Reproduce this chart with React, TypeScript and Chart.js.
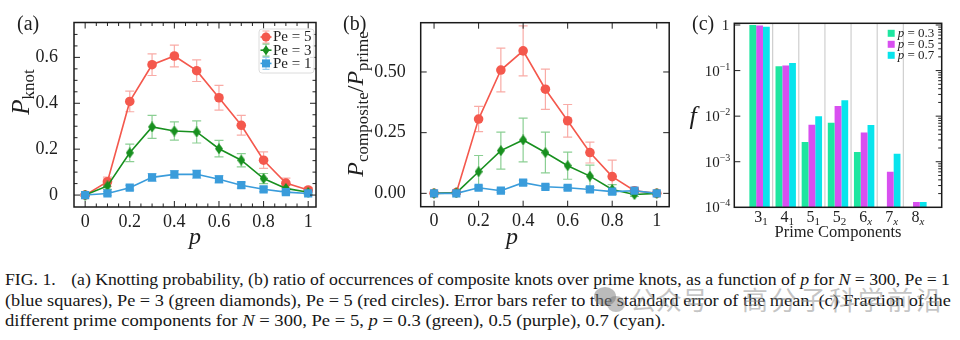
import React, { useEffect, useLayoutEffect, useRef } from "react";
import { Chart, registerables } from "chart.js";

Chart.register(...registerables);

const SERIF = "'Liberation Serif', 'Times New Roman', serif";
const TXT = "#1e1e1e";

// ---------- data ----------
const pValues = [0, 0.1, 0.2, 0.3, 0.4, 0.5, 0.6, 0.7, 0.8, 0.9, 1.0];

const knotPe5 = [0, 0.058, 0.408, 0.568, 0.606, 0.542, 0.424, 0.304, 0.152, 0.052, 0.022];
const knotPe5Err = [0.004, 0.02, 0.045, 0.047, 0.047, 0.047, 0.054, 0.043, 0.036, 0.022, 0.01];
const knotPe3 = [0, 0.04, 0.184, 0.297, 0.279, 0.275, 0.202, 0.152, 0.072, 0.029, 0.012];
const knotPe3Err = [0.004, 0.015, 0.038, 0.05, 0.04, 0.048, 0.036, 0.029, 0.022, 0.013, 0.008];
const knotPe1 = [0, 0.007, 0.032, 0.077, 0.09, 0.091, 0.069, 0.043, 0.025, 0.013, 0.007];
const knotPe1Err = [0.004, 0.008, 0.01, 0.017, 0.017, 0.018, 0.016, 0.013, 0.01, 0.008, 0.006];

const ratioPe5 = [0, 0.003, 0.306, 0.508, 0.587, 0.429, 0.299, 0.168, 0.069, 0.011, 0];
const ratioPe5Err = [0, 0.005, 0.052, 0.09, 0.103, 0.083, 0.067, 0.043, 0.068, 0.012, 0];
const ratioPe3 = [0, 0.002, 0.089, 0.176, 0.22, 0.168, 0.114, 0.071, 0.016, -0.005, 0];
const ratioPe3Err = [0, 0.004, 0.067, 0.076, 0.09, 0.084, 0.056, 0.045, 0.02, 0.008, 0];
const ratioPe1 = [0, 0, 0.023, 0.011, 0.044, 0.027, 0.023, 0.016, 0.007, 0.011, 0];
const ratioPe1Err = [0, 0.003, 0.008, 0.006, 0.01, 0.008, 0.008, 0.007, 0.005, 0.006, 0];

const pTickValues = [0, 0.2, 0.4, 0.6, 0.8, 1];
const pTickLabels = ["0", "0.2", "0.4", "0.6", "0.8", "1"];
const knotTickValues = [0, 0.2, 0.4, 0.6];
const knotTickLabels = ["0", "0.2", "0.4", "0.6"];
const ratioTickValues = [0, 0.25, 0.5];
const ratioTickLabels = ["0.00", "0.25", "0.50"];

const knotTypes = ["3", "4", "5", "5", "6", "7", "8"];
const knotSubs = ["1", "1", "1", "2", "x", "x", "x"];
const fracP03 = [1.0, 0.125, 0.0027, 0.0072, 0.00163, null, null];
const fracP05 = [0.97, 0.129, 0.0065, 0.0167, 0.0044, 0.0006, 0.000131];
const fracP07 = [0.92, 0.146, 0.0099, 0.0223, 0.0064, 0.0015, 0.000131];
const fracExponents = [-4, -3, -2, -1, 0];

// ---------- colours ----------
const RED = "#f4584d";
const RED_ERR = "rgba(244,88,77,0.5)";
const GREEN = "#18901f";
const GREEN_ERR = "rgba(24,160,40,0.5)";
const BLUE = "#3a9cdb";
const BLUE_ERR = "rgba(58,156,219,0.5)";
const C_GREEN = "#1ee6a0";
const C_PURPLE = "#d84ff0";
const C_CYAN = "#08e4ec";

// ---------- text helpers ----------
type Part = { t: string; size: number; italic?: boolean; dy?: number };
type TextSpec = { x: number; y: number; rot?: boolean; align?: "left" | "center" | "right"; parts: Part[] };

const fontOf = (p: Part) => `${p.italic ? "italic " : ""}${p.size}px ${SERIF}`;

function drawRich(ctx: CanvasRenderingContext2D, s: TextSpec) {
  ctx.save();
  ctx.fillStyle = TXT;
  ctx.textBaseline = "alphabetic";
  ctx.textAlign = "left";
  let total = 0;
  const widths = s.parts.map((p) => {
    ctx.font = fontOf(p);
    const w = ctx.measureText(p.t).width;
    total += w;
    return w;
  });
  ctx.translate(s.x, s.y);
  if (s.rot) ctx.rotate(-Math.PI / 2);
  const al = s.align || "center";
  let x = al === "center" ? -total / 2 : al === "right" ? -total : 0;
  s.parts.forEach((p, i) => {
    ctx.font = fontOf(p);
    ctx.fillText(p.t, x, p.dy || 0);
    x += widths[i];
  });
  ctx.restore();
}

// ---------- plugins ----------
type FrameOpts = {
  xMajor: number[];
  xMinor: number[];
  yMajor: number[];
  yMinor: number[];
  yMinorLeft?: boolean;
  texts: (chart: any) => TextSpec[];
};

function framePlugin(o: FrameOpts) {
  return {
    id: "frameTicks",
    afterDraw(chart: any) {
      const { ctx, chartArea: a, scales } = chart;
      const xs = scales.x;
      const ys = scales.y;
      ctx.save();
      ctx.strokeStyle = "#222";
      ctx.lineWidth = 1;
      const MAJ = 6;
      const MIN = 3.5;
      const xTick = (v: number, len: number) => {
        const px = xs.getPixelForValue(v);
        if (px < a.left + 0.5 || px > a.right - 0.5) return;
        ctx.beginPath();
        ctx.moveTo(px, a.bottom);
        ctx.lineTo(px, a.bottom - len);
        ctx.moveTo(px, a.top);
        ctx.lineTo(px, a.top + len);
        ctx.stroke();
      };
      const yTick = (v: number, len: number, left: boolean) => {
        const py = ys.getPixelForValue(v);
        if (py < a.top + 0.5 || py > a.bottom - 0.5) return;
        ctx.beginPath();
        if (left) {
          ctx.moveTo(a.left, py);
          ctx.lineTo(a.left + len, py);
        }
        ctx.moveTo(a.right, py);
        ctx.lineTo(a.right - len, py);
        ctx.stroke();
      };
      o.xMajor.forEach((v) => xTick(v, MAJ));
      o.xMinor.forEach((v) => xTick(v, MIN));
      o.yMajor.forEach((v) => yTick(v, MAJ, true));
      o.yMinor.forEach((v) => yTick(v, MIN, o.yMinorLeft !== false));
      ctx.lineWidth = 1.5;
      ctx.strokeStyle = "#1a1a1a";
      ctx.strokeRect(a.left, a.top, a.right - a.left, a.bottom - a.top);
      ctx.restore();
      o.texts(chart).forEach((t) => drawRich(ctx, t));
    },
  };
}

const errorBarPlugin = {
  id: "errorBars",
  beforeDatasetsDraw(chart: any) {
    const { ctx, chartArea: a, scales } = chart;
    const xs = scales.x;
    const ys = scales.y;
    ctx.save();
    ctx.beginPath();
    ctx.rect(a.left, a.top, a.right - a.left, a.bottom - a.top);
    ctx.clip();
    ctx.lineWidth = 1.2;
    chart.data.datasets.forEach((ds: any) => {
      if (!ds.errorBars) return;
      ctx.strokeStyle = ds.errorColor;
      ds.data.forEach((pt: any, i: number) => {
        const e = ds.errorBars[i];
        if (!e) return;
        const px = xs.getPixelForValue(pt.x);
        const y1 = ys.getPixelForValue(pt.y - e);
        const y2 = ys.getPixelForValue(pt.y + e);
        ctx.beginPath();
        ctx.moveTo(px, y1);
        ctx.lineTo(px, y2);
        ctx.moveTo(px - 4.5, y1);
        ctx.lineTo(px + 4.5, y1);
        ctx.moveTo(px - 4.5, y2);
        ctx.lineTo(px + 4.5, y2);
        ctx.stroke();
      });
    });
    ctx.restore();
  },
};

function drawMarker(ctx: CanvasRenderingContext2D, kind: string, x: number, y: number, color: string) {
  ctx.fillStyle = color;
  ctx.beginPath();
  if (kind === "circle") {
    ctx.arc(x, y, 4.5, 0, Math.PI * 2);
  } else if (kind === "diamond") {
    ctx.moveTo(x, y - 5);
    ctx.lineTo(x + 3.6, y);
    ctx.lineTo(x, y + 5);
    ctx.lineTo(x - 3.6, y);
    ctx.closePath();
  } else {
    ctx.rect(x - 4, y - 4, 8, 8);
  }
  ctx.fill();
}

const lineLegendPlugin = {
  id: "lineLegend",
  afterDraw(chart: any) {
    const { ctx, chartArea: a } = chart;
    const w = 55;
    const h = 44;
    const x0 = a.right - 2 - w;
    const y0 = a.top + 6.5;
    ctx.save();
    ctx.beginPath();
    (ctx as any).roundRect(x0, y0, w, h, 3);
    ctx.fillStyle = "rgba(255,255,255,0.85)";
    ctx.fill();
    ctx.strokeStyle = "#dcdcdc";
    ctx.lineWidth = 1;
    ctx.stroke();
    chart.data.datasets.forEach((ds: any, i: number) => {
      const cy = y0 + 8 + i * 13.2;
      const mx = x0 + 7;
      ctx.strokeStyle = ds.errorColor;
      ctx.lineWidth = 1.2;
      ctx.beginPath();
      ctx.moveTo(mx, cy - 6);
      ctx.lineTo(mx, cy + 6);
      ctx.moveTo(mx - 3.5, cy - 6);
      ctx.lineTo(mx + 3.5, cy - 6);
      ctx.moveTo(mx - 3.5, cy + 6);
      ctx.lineTo(mx + 3.5, cy + 6);
      ctx.stroke();
      ctx.strokeStyle = ds.borderColor;
      ctx.lineWidth = 1.6;
      ctx.beginPath();
      ctx.moveTo(x0 + 1.5, cy);
      ctx.lineTo(x0 + 12.5, cy);
      ctx.stroke();
      drawMarker(ctx, ds.marker, mx, cy, ds.borderColor);
      ctx.fillStyle = TXT;
      ctx.font = `15px ${SERIF}`;
      ctx.textBaseline = "middle";
      ctx.textAlign = "left";
      ctx.fillText(ds.label, x0 + 14, cy + 0.5);
    });
    ctx.restore();
  },
};

const barDecorPlugin = {
  id: "barDecor",
  beforeDatasetsDraw(chart: any) {
    const { ctx, chartArea: a, scales } = chart;
    ctx.save();
    ctx.strokeStyle = "#cfcfcf";
    ctx.lineWidth = 1.2;
    for (let i = 0; i < knotTypes.length - 1; i++) {
      const px = scales.x.getPixelForValue(i + 0.5);
      ctx.beginPath();
      ctx.moveTo(px, a.top);
      ctx.lineTo(px, a.bottom);
      ctx.stroke();
    }
    ctx.restore();
  },
  afterDraw(chart: any) {
    const { ctx, chartArea: a } = chart;
    ctx.save();
    const x0 = a.right - 54;
    chart.data.datasets.forEach((ds: any, i: number) => {
      const cy = a.top + 10 + i * 11;
      ctx.fillStyle = ds.backgroundColor;
      ctx.fillRect(x0, cy - 3.5, 7, 7);
      drawRich(ctx, {
        x: x0 + 10,
        y: cy + 4,
        align: "left",
        parts: [
          { t: "p", size: 13, italic: true },
          { t: " = " + ds.pValue, size: 13 },
        ],
      });
    });
    ctx.restore();
  },
};

// ---------- chart builders ----------
function diamondImage(color: string) {
  const c = document.createElement("canvas");
  c.width = 8;
  c.height = 11;
  const g = c.getContext("2d")!;
  g.fillStyle = color;
  g.beginPath();
  g.moveTo(4, 0);
  g.lineTo(8, 5.5);
  g.lineTo(4, 11);
  g.lineTo(0, 5.5);
  g.closePath();
  g.fill();
  return c;
}

function series(label: string, ys: number[], errs: number[], color: string, errColor: string, marker: string, order: number) {
  return {
    label,
    data: pValues.map((p, i) => ({ x: p, y: ys[i] })),
    errorBars: errs,
    errorColor: errColor,
    marker,
    order,
    borderColor: color,
    backgroundColor: color,
    pointBackgroundColor: color,
    pointBorderWidth: 0,
    pointStyle: marker === "diamond" ? diamondImage(color) : marker === "square" ? "rect" : "circle",
    pointRadius: marker === "square" ? 5.8 : 4.8,
    borderWidth: 1.6,
    tension: 0,
  };
}

type Area = { left: number; top: number; right: number; bottom: number };

const TICK_FONT = { size: 18, family: SERIF };

function lineChart(
  canvas: HTMLCanvasElement,
  W: number,
  H: number,
  area: Area,
  xRange: [number, number],
  yRange: [number, number],
  yTicks: number[],
  yLabels: string[],
  yPad: number,
  datasets: any[],
  frame: FrameOpts,
  withLegend: boolean
) {
  const plugins: any[] = [errorBarPlugin, framePlugin(frame)];
  if (withLegend) plugins.push(lineLegendPlugin);
  return new Chart(canvas, {
    type: "line",
    data: { datasets },
    options: {
      responsive: false,
      animation: false,
      devicePixelRatio: 1,
      layout: { padding: { left: 0, top: area.top, right: W - area.right, bottom: 0 } },
      plugins: { legend: { display: false }, tooltip: { enabled: false } },
      scales: {
        x: {
          type: "linear",
          min: xRange[0],
          max: xRange[1],
          grid: { display: false },
          border: { display: false },
          afterBuildTicks: (s: any) => {
            s.ticks = pTickValues.map((v) => ({ value: v }));
          },
          afterFit: (s: any) => {
            s.height = H - area.bottom;
          },
          ticks: {
            callback: (_v: any, i: number) => pTickLabels[i],
            padding: -4,
            color: TXT,
            font: TICK_FONT,
            maxRotation: 0,
            autoSkip: false,
          },
        },
        y: {
          type: "linear",
          min: yRange[0],
          max: yRange[1],
          grid: { display: false },
          border: { display: false },
          afterBuildTicks: (s: any) => {
            s.ticks = yTicks.map((v) => ({ value: v }));
          },
          afterFit: (s: any) => {
            s.width = area.left;
          },
          ticks: {
            callback: (_v: any, i: number) => yLabels[i],
            padding: yPad,
            color: TXT,
            font: TICK_FONT,
            autoSkip: false,
          },
        },
      },
    } as any,
    plugins,
  });
}

function steps(from: number, to: number, step: number, skipEvery: number) {
  const out: number[] = [];
  const n0 = Math.ceil(from / step - 1e-9);
  const n1 = Math.floor(to / step + 1e-9);
  for (let n = n0; n <= n1; n++) {
    if (n % skipEvery !== 0) out.push(+(n * step).toFixed(4));
  }
  return out;
}

const H = 260;

function makeA(canvas: HTMLCanvasElement) {
  const area = { left: 74, top: 22.5, right: 316, bottom: 207 };
  return lineChart(
    canvas,
    330,
    H,
    area,
    [-0.05, 1.035],
    [-0.052, 0.752],
    knotTickValues,
    knotTickLabels,
    8,
    [
      series("Pe = 5", knotPe5, knotPe5Err, RED, RED_ERR, "circle", 3),
      series("Pe = 3", knotPe3, knotPe3Err, GREEN, GREEN_ERR, "diamond", 2),
      series("Pe = 1", knotPe1, knotPe1Err, BLUE, BLUE_ERR, "square", 1),
    ],
    {
      xMajor: pTickValues,
      xMinor: steps(-0.05, 1.035, 0.05, 4),
      yMajor: knotTickValues,
      yMinor: steps(-0.05, 0.75, 0.05, 4),
      texts: () => [
        { x: 17, y: 30, align: "left", parts: [{ t: "(a)", size: 20 }] },
        { x: 29, y: 92, rot: true, parts: [{ t: "P", size: 25, italic: true }, { t: "knot", size: 17, dy: 4.5 }] },
        { x: 195, y: 244, parts: [{ t: "p", size: 24, italic: true }] },
      ],
    },
    true
  );
}

function makeB(canvas: HTMLCanvasElement) {
  const area = { left: 90.7, top: 22.7, right: 341.7, bottom: 206.7 };
  return lineChart(
    canvas,
    345,
    H,
    area,
    [-0.06, 1.056],
    [-0.055, 0.703],
    ratioTickValues,
    ratioTickLabels,
    7,
    [
      series("Pe = 5", ratioPe5, ratioPe5Err, RED, RED_ERR, "circle", 3),
      series("Pe = 3", ratioPe3, ratioPe3Err, GREEN, GREEN_ERR, "diamond", 2),
      series("Pe = 1", ratioPe1, ratioPe1Err, BLUE, BLUE_ERR, "square", 1),
    ],
    {
      xMajor: pTickValues,
      xMinor: [],
      yMajor: ratioTickValues,
      yMinor: [],
      texts: () => [
        { x: 13, y: 30, align: "left", parts: [{ t: "(b)", size: 20 }] },
        {
          x: 33,
          y: 104,
          rot: true,
          parts: [
            { t: "P", size: 24, italic: true },
            { t: "composite", size: 17, dy: 5 },
            { t: "/", size: 24 },
            { t: "P", size: 24, italic: true },
            { t: "prime", size: 17, dy: 5 },
          ],
        },
        { x: 182, y: 244, parts: [{ t: "p", size: 24, italic: true }] },
      ],
    },
    false
  );
}

function makeC(canvas: HTMLCanvasElement) {
  const W = 280;
  const area = { left: 54.3, top: 23.3, right: 261.7, bottom: 207.3 };
  const minor: number[] = [];
  for (let k = -4; k <= -1; k++) for (let m = 2; m <= 9; m++) minor.push(m * Math.pow(10, k));
  const mk = (label: string, pv: string, vals: (number | null)[], color: string) => ({
    label,
    pValue: pv,
    data: vals.map((v, i) => ({ x: i, y: v })),
    backgroundColor: color,
    borderWidth: 0,
    categoryPercentage: 0.78,
    barPercentage: 1,
  });
  const frame = framePlugin({
    xMajor: [],
    xMinor: [],
    yMajor: fracExponents.map((e) => Math.pow(10, e)),
    yMinor: minor,
    yMinorLeft: false,
    texts: (chart: any) => {
      const xs = chart.scales.x;
      const ys = chart.scales.y;
      const a = chart.chartArea;
      const out: TextSpec[] = [
        { x: 12, y: 30, align: "left", parts: [{ t: "(c)", size: 20 }] },
        { x: 13, y: 124, parts: [{ t: "f", size: 26, italic: true }] },
        { x: 158, y: 237, parts: [{ t: "Prime Components", size: 16.5 }] },
      ];
      knotTypes.forEach((k, i) => {
        out.push({
          x: xs.getPixelForValue(i) + 1.5,
          y: a.bottom + 15,
          parts: [
            { t: k, size: 16 },
            { t: knotSubs[i], size: 11, dy: 3, italic: knotSubs[i] === "x" },
          ],
        });
      });
      fracExponents.forEach((e) => {
        const py = ys.getPixelForValue(Math.pow(10, e));
        out.push(
          e === 0
            ? { x: a.left - 5, y: py + 5, align: "right", parts: [{ t: "1", size: 15 }] }
            : {
                x: a.left - 4,
                y: py + 5,
                align: "right",
                parts: [
                  { t: "10", size: 15 },
                  { t: "\u2212" + -e, size: 10, dy: -6 },
                ],
              }
        );
      });
      return out;
    },
  });
  return new Chart(canvas, {
    type: "bar",
    data: {
      datasets: [
        mk("p = 0.3", "0.3", fracP03, C_GREEN),
        mk("p = 0.5", "0.5", fracP05, C_PURPLE),
        mk("p = 0.7", "0.7", fracP07, C_CYAN),
      ],
    },
    options: {
      responsive: false,
      animation: false,
      devicePixelRatio: 1,
      layout: { padding: { left: 0, top: area.top, right: W - area.right, bottom: 0 } },
      plugins: { legend: { display: false }, tooltip: { enabled: false } },
      scales: {
        x: {
          type: "linear",
          min: -0.4,
          max: 6.4,
          grid: { display: false },
          border: { display: false },
          ticks: { display: false },
          afterBuildTicks: (s: any) => {
            s.ticks = knotTypes.map((_k, i) => ({ value: i }));
          },
          afterFit: (s: any) => {
            s.height = H - area.bottom;
          },
        },
        y: {
          type: "logarithmic",
          min: 1e-4,
          max: 1.09,
          grid: { display: false },
          border: { display: false },
          ticks: { display: false },
          afterFit: (s: any) => {
            s.width = area.left;
          },
        },
      },
    } as any,
    plugins: [barDecorPlugin, frame],
  });
}

function ChartCanvas({ left, width, make }: { left: number; width: number; make: (c: HTMLCanvasElement) => Chart }) {
  const ref = useRef<HTMLCanvasElement>(null);
  useEffect(() => {
    const ch = make(ref.current!);
    return () => ch.destroy();
  }, []);
  return (
    <canvas
      ref={ref}
      width={width}
      height={H}
      style={{ position: "absolute", left, top: 0, width, height: H }}
    />
  );
}

function CaptionLine({ top, target, children }: { top: number; target: number; children: React.ReactNode }) {
  const ref = useRef<HTMLDivElement>(null);
  useLayoutEffect(() => {
    const el = ref.current!;
    const w = el.offsetWidth;
    if (w > 0) el.style.transform = `scaleX(${target / w})`;
  }, []);
  return (
    <div
      ref={ref}
      style={{
        position: "absolute",
        left: 5,
        top,
        whiteSpace: "nowrap",
        display: "inline-block",
        transformOrigin: "0 0",
        fontFamily: SERIF,
        fontSize: 16,
        lineHeight: "20px",
        color: "#161616",
      }}
    >
      {children}
    </div>
  );
}

export default function App() {
  return (
    <div
      style={{
        position: "fixed",
        left: 0,
        top: 0,
        width: 960,
        height: 340,
        background: "#fff",
        overflow: "hidden",
      }}
    >
      <ChartCanvas left={0} width={330} make={makeA} />
      <ChartCanvas left={330} width={345} make={makeB} />
      <ChartCanvas left={680} width={280} make={makeC} />
      <CaptionLine top={270} target={945}>
        FIG. 1.<span style={{ display: "inline-block", width: 10 }} /> (a) Knotting probability, (b) ratio of occurrences of composite knots over prime knots, as a function of <i>p</i> for <i>N</i> = 300, Pe = 1
      </CaptionLine>
      <CaptionLine top={290.5} target={946}>
        (blue squares), Pe = 3 (green diamonds), Pe = 5 (red circles). Error bars refer to the standard error of the mean. (c) Fraction of the
      </CaptionLine>
      <CaptionLine top={311} target={660}>
        different prime components for <i>N</i> = 300, Pe = 5, <i>p</i> = 0.3 (green), 0.5 (purple), 0.7 (cyan).
      </CaptionLine>
      <div
        style={{
          position: "absolute",
          left: 594,
          top: 287,
          width: 22,
          height: 19,
          borderRadius: "50%",
          background: "rgba(120,120,120,0.5)",
        }}
      />
      <div
        style={{
          position: "absolute",
          left: 607,
          top: 296,
          width: 18,
          height: 16,
          borderRadius: "50%",
          background: "rgba(120,120,120,0.45)",
        }}
      />
      <div
        style={{
          position: "absolute",
          left: 630,
          top: 283,
          fontFamily: "'Noto Sans CJK SC', sans-serif",
          fontSize: 26,
          lineHeight: "32px",
          color: "rgba(140,140,140,0.5)",
          whiteSpace: "nowrap",
        }}
      >
        公众号<span style={{ display: "inline-block", width: 34 }} />
        <span style={{ letterSpacing: 3 }}>高分子科学前沿</span>
      </div>
    </div>
  );
}
